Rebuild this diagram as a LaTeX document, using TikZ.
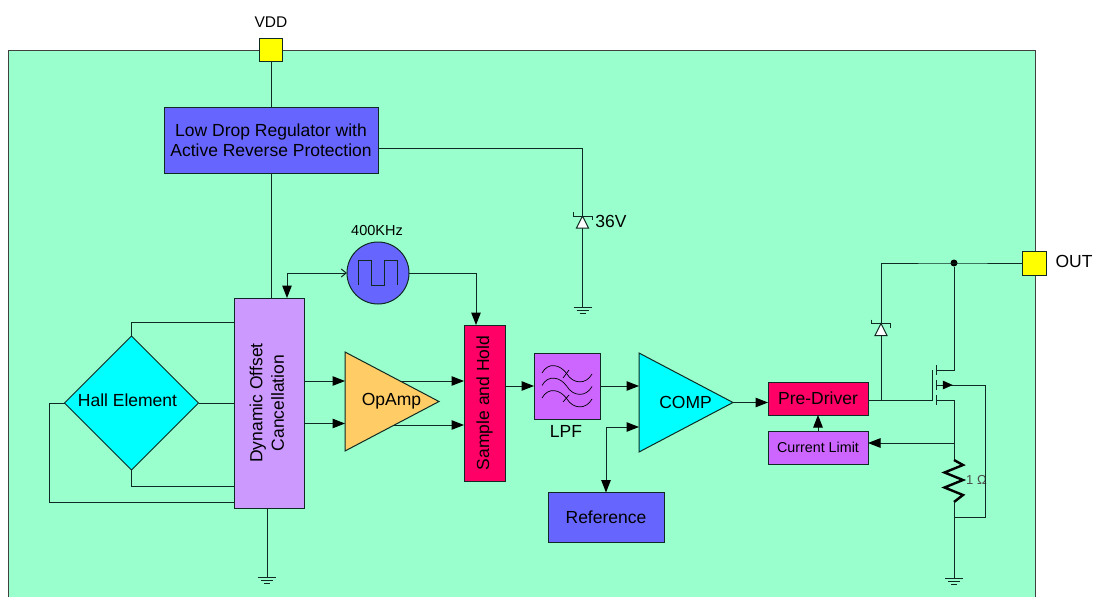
\documentclass[tikz,border=0pt]{standalone}
\usepackage{fontspec}
\setmainfont{Liberation Sans}
\usepackage{graphicx}
\usetikzlibrary{calc,arrows.meta,positioning,shapes.geometric}
\definecolor{bgx}{HTML}{99FFCC}
\definecolor{bluex}{HTML}{6666FF}
\definecolor{lilacx}{HTML}{CC99FF}
\definecolor{purplex}{HTML}{CC66FF}
\definecolor{redx}{HTML}{FF0066}
\definecolor{orangex}{HTML}{FFCC66}
\definecolor{cyanx}{HTML}{00FFFF}
\definecolor{yellowx}{HTML}{FFFF00}
\definecolor{wirex}{HTML}{0E2A22}
\tikzset{
  >={Triangle[length=12.5pt,width=9.5pt,black]},
  wire/.style={wirex,line width=1pt},
  ar/.style={->,wire},
  box/.style={draw=wirex,line width=1pt,inner sep=0pt,outer sep=0pt,align=center,font=\fontsize{17.5}{20.5}\selectfont},
  tri/.style={draw=wirex,line width=1pt,isosceles triangle,isosceles triangle apex angle=55,isosceles triangle stretches,shape border rotate=0,inner sep=0pt,outer sep=0pt,anchor=lower side,minimum width=99pt,minimum height=94pt},
  pad/.style={draw=wirex,line width=1pt,fill=yellowx,inner sep=0pt,outer sep=0pt,minimum size=23pt},
  txt/.style={inner sep=0pt,font=\fontsize{17.5}{20}\selectfont}
}
\newcommand{\gnd}[1]{
  \draw[wire] ($(#1)+(-9,0)$)--($(#1)+(9,0)$) ($(#1)+(-6,3.3)$)--($(#1)+(6,3.3)$) ($(#1)+(-3,6.6)$)--($(#1)+(3,6.6)$);
}
\newcommand{\zener}[1]{
  \draw[wire,fill=white] ($(#1)+(-6,12)$)--($(#1)+(0,0)$)--($(#1)+(6,12)$)--cycle;
  \draw[wire] ($(#1)+(-9.5,-4)$)--($(#1)+(-9.5,0)$)--($(#1)+(9.5,0)$)--($(#1)+(9.5,4)$);
}
\begin{document}
\begin{tikzpicture}[x=1pt,y=-1pt]
\useasboundingbox (0,0) rectangle (1096,597);
\draw[fill=bgx,draw=black!75,line width=1pt] (8.5,50) rectangle (1035,610);
% blocks
\node[pad] (vdd) at (271,49.5) {};
\node[txt,font=\fontsize{15.5}{18}\selectfont] (vddt) at (271,22) {VDD};
\node[box,fill=bluex,minimum width=214pt,minimum height=66pt] (reg) at (271,140) {Low Drop Regulator with\\Active Reverse Protection};
\node[box,fill=bluex,circle,minimum size=62pt] (osc) at (378,273) {};
\node[txt,font=\fontsize{14.5}{17}\selectfont] (osct) at (377,231) {400KHz};
\node[box,fill=lilacx,minimum width=70pt,minimum height=210pt] (doc) at (269,403) {\rotatebox{90}{\begin{tabular}{@{}c@{}}Dynamic Offset\\[1pt]Cancellation\end{tabular}}};
\node[box,diamond,aspect=1,fill=cyanx,minimum size=134pt] (hall) at (131.5,403) {};
\node[txt] (hallt) at (127.5,400) {Hall Element};
\node[tri,fill=orangex] (amp) at (345,401.5) {};
\node[txt] (ampt) at (391.5,401) {OpAmp};
\node[box,fill=redx,minimum width=41pt,minimum height=156pt] (sh) at (484.5,403) {\rotatebox{90}{Sample and Hold}};
\node[box,fill=purplex,minimum width=66pt,minimum height=66pt] (lpf) at (567,386) {};
\node[txt] (lpft) at (566,431) {LPF};
\node[tri,fill=cyanx] (comp) at (639,402.5) {};
\node[txt] (compt) at (685.5,402) {COMP};
\node[box,fill=bluex,minimum width=116pt,minimum height=50pt] (ref) at (606,517.5) {Reference};
\node[box,fill=redx,minimum width=100pt,minimum height=33pt] (pre) at (818,398.5) {Pre-Driver};
\node[box,fill=purplex,minimum width=100pt,minimum height=33pt,font=\fontsize{14.3}{17}\selectfont] (lim) at (818,447.5) {Current Limit};
\node[pad,minimum size=24pt] (out) at (1034,263) {};
\node[txt] (outt) at (1074,261) {OUT};
\node[circle,fill=black,inner sep=0pt,minimum size=7pt] (dot) at (954,263) {};
\node[txt] (zt) at (611,221) {36V};
\node[txt,font=\fontsize{13}{15}\selectfont,text=black!70] (rt) at (976.5,480) {1 Ω};
% tap points
\coordinate (regtap) at (378,148);
\coordinate (gndz) at (582.5,307);
\coordinate (gnddoc) at (267,577);
\coordinate (gndout) at (954,578);
\coordinate (clk) at (287,273);
\coordinate (shclk) at (476,273);
\coordinate (hup) at (234,322);
\coordinate (hdn) at (234,486.5);
\coordinate (hlf) at (49,403);
\coordinate (hlb) at (234,502);
\coordinate (ampa) at (345,381);
\coordinate (ampb) at (345,423.5);
\coordinate (sha) at (464,381);
\coordinate (shb) at (464,425);
\coordinate (gate) at (932,400);
\coordinate (dr) at (936,370);
\coordinate (so) at (936,400);
\coordinate (bu) at (936,385);
\coordinate (bs) at (985,385);
\coordinate (rtop) at (954,460);
\coordinate (rbot) at (954,502);
\coordinate (sense) at (954,443);
\coordinate (ret) at (954,517);
\coordinate (zd) at (881,263);
\coordinate (cmpb) at (639,427);
\coordinate (reft) at (606,427);
% connectors
\draw[wire] (vdd.south)--(reg.north);
\draw[wire] (reg.south -| vdd)--(vdd |- doc.north);
\draw[wire] (regtap)-|(gndz);
\gnd{gndz}
\zener{582.5,216}
\draw[wire,<-] (clk |- doc.north)--(clk);
\draw[wire,-{Straight Barb[length=5pt,width=8pt]}] (clk)--(osc.west);
\draw[ar] (osc.east)-|(shclk |- sh.north);
\draw[wire] (hall.north)|-(hup);
\draw[wire] (hall.east)--(hall.east -| doc.west);
\draw[wire] (hall.south)|-(hdn);
\draw[wire] (hall.west)--(hlf)|-(hlb);
\draw[wire] (doc.south -| gnddoc)--(gnddoc);
\gnd{gnddoc}
\draw[ar] (ampa -| doc.east)--(ampa);
\draw[ar] (ampb -| doc.east)--(ampb);
\draw[ar] (400,381)--(sha);
\draw[ar] (394,425)--(shb);
\draw[ar] (sh.east |- lpf.west)--(lpf.west);
\draw[ar] (lpf.east)--(lpf.east -| comp.lower side);
\draw[wire,<->] (ref.north)--(reft)--(cmpb);
\draw[ar] (comp.apex)--(pre.west |- comp.apex);
\draw[ar] (lim.north)--(pre.south);
\draw[ar] (sense)--(sense -| lim.east);
% output stage
\draw[wire] (out.west)--(dot.center)--(zd)--(zd |- gate);
\zener{881,323.5}
\draw[wire] (pre.east |- gate)--(gate)--(932,370);
\draw[wire] (936,365)--(936,375) (936,380)--(936,390) (936,395)--(936,405);
\draw[wire] (dr)-|(dot);
\draw[wire] (so)-|(rtop);
\draw[wire] (bu)--(bs)|-(ret);
\draw[black,fill=black,line width=0.5pt] (943,381)--(952,385)--(943,389)--cycle;
\draw[black,line width=2.4pt] (rtop)--(963,465)--(944.5,472.5)--(963,480)--(944.5,487.5)--(963,495)--(rbot);
\draw[wire] (rbot)--(gndout);
\gnd{gndout}
% clock and filter marks
\draw[wire] (358,285)--(358,260)--(371,260)--(371,285)--(384,285)--(384,260)--(397,260)--(397,285);
\foreach \dy in {0,12.5,25}{
  \draw[black,line width=0.7pt] (542,373+\dy) .. controls (548,362+\dy) and (560,364+\dy) .. (567,374+\dy) .. controls (573,384+\dy) and (586,385+\dy) .. (592,374+\dy);
}
\draw[black,line width=0.7pt] (563,378)--(569,370) (563,402)--(569,395);
\end{tikzpicture}
\end{document}
